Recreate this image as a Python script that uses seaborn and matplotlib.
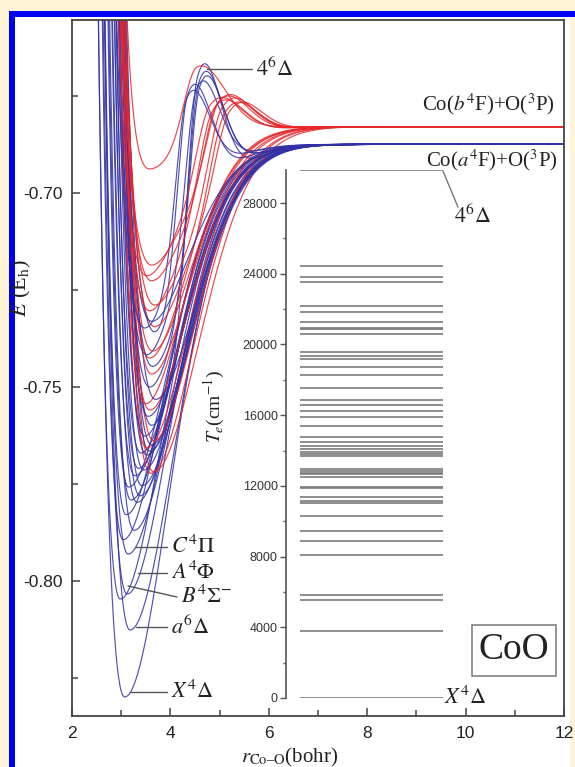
import numpy as np
import pandas as pd
import matplotlib
matplotlib.use("Agg")
import matplotlib.pyplot as plt
import seaborn as sns
from matplotlib.patches import Rectangle
from matplotlib.ticker import MultipleLocator, FormatStrFormatter

sns.set_theme(style="ticks")
plt.rcParams['font.family'] = ['Liberation Serif', 'DejaVu Serif']
plt.rcParams['mathtext.fontset'] = 'stix'
plt.rcParams['axes.unicode_minus'] = False

# ---------------- data ----------------
HARTREE_CM = 219474.63
E_GROUND = -0.8299                      # X4Delta minimum (Eh)
E_ASYM_A = -0.68745                     # Co(a4F)+O(3P)
E_ASYM_B = -0.68288                     # Co(b4F)+O(3P)

# term energies Te (cm-1) of the bound states (inset levels)
te_cm = [0, 3790, 5543, 5826, 8088, 8897, 9429, 10311, 11012, 11143,
         11386, 11878, 11952, 12517, 12653, 12743, 12839, 12935, 13688, 13801,
         13914, 14084, 14271, 14497, 14762, 15368, 15877, 16233, 16590, 16838,
         17534, 18269, 18704, 19174, 19362, 19570, 20588, 20870, 20947, 21250,
         21850, 22172, 23547, 23830, 24434, 29864]
# dissociation limit: 'a' = Co(a4F)+O(3P) (blue), 'b' = Co(b4F)+O(3P) (red)
limit = ['a', 'a', 'a', 'a', 'a', 'a', 'a', 'a', 'a', 'a',
         'a', 'a', 'a', 'a', 'b', 'b', 'a', 'a', 'a', 'a',
         'a', 'b', 'a', 'b', 'a', 'a', 'a', 'b', 'b', 'a',
         'a', 'b', 'a', 'b', 'a', 'b', 'a', 'a', 'b', 'a',
         'b', 'b', 'b', 'b', 'b', 'b']
# equilibrium distance (bohr)
re_bohr = [3.07, 3.18, 2.98, 3.12, 3.14, 3.04, 3.26, 3.10, 3.32, 3.20,
           3.38, 3.15, 3.42, 3.28, 3.60, 3.66, 3.46, 3.35, 3.52, 3.40,
           3.58, 3.52, 3.62, 3.66, 3.48, 3.62, 3.55, 3.58, 3.50, 3.70,
           3.58, 3.62, 3.64, 3.58, 3.52, 3.64, 3.70, 3.48, 3.68, 3.62,
           3.58, 3.68, 3.62, 3.52, 3.62, 3.58]
# steepness of inner wall / outer branch
a_inner = [1.40, 1.45, 1.70, 1.55, 1.60, 1.80, 1.55, 1.80, 1.55, 1.70,
           1.50, 1.85, 1.50, 1.65, 1.35, 1.30, 1.50, 1.60, 1.45, 1.55,
           1.40, 1.40, 1.40, 1.35, 1.50, 1.40, 1.45, 1.40, 1.45, 1.35,
           1.40, 1.40, 1.40, 1.40, 1.45, 1.35, 1.35, 1.45, 1.35, 1.40,
           1.40, 1.35, 1.40, 1.45, 1.40, 2.30]
a_outer = [0.80, 0.82, 0.85, 0.85, 0.85, 0.90, 0.85, 0.90, 0.85, 0.90,
           0.85, 0.90, 0.85, 0.90, 0.85, 0.80, 0.90, 0.95, 0.90, 0.95,
           0.90, 0.90, 0.95, 0.90, 1.00, 1.10, 1.00, 0.95, 1.00, 0.95,
           1.15, 1.00, 1.15, 1.05, 1.20, 1.00, 1.25, 1.20, 1.05, 1.05,
           1.10, 1.05, 1.10, 1.10, 1.10, 1.40]
OUTER_BEND = 0.25   # extra curvature of the outer branch towards the limit
# barrier maxima (position bohr, energy Eh); nan = none
hump_r = [np.nan] * 25 + [4.55, np.nan, np.nan, np.nan, np.nan,
                          4.58, np.nan, 4.60, 5.10, 4.52, np.nan, 4.35, 4.32, 5.20, np.nan,
                          4.85, 5.05, 4.95, 4.80, 5.00, 4.54]
hump_e = [np.nan] * 25 + [-0.6701, np.nan, np.nan, np.nan, np.nan,
                          -0.6714, np.nan, -0.6724, -0.6795, -0.6735, np.nan, -0.6747, -0.6760, -0.6790, np.nan,
                          -0.6790, -0.6780, -0.6770, -0.6775, -0.6762, -0.6675]

# ---------------- build the potential curves ----------------
r = np.linspace(2.0, 12.0, 1201)
rows = []
for i, te in enumerate(te_cm):
    asym = E_ASYM_A if limit[i] == 'a' else E_ASYM_B
    emin = E_GROUND + te / HARTREE_CM
    de = asym - emin

    def pec(x):
        d = x - re_bohr[i]
        expo = np.where(d < 0, a_inner[i] * d,
                        a_outer[i] * d + OUTER_BEND * d ** 2)
        return asym - de + de * (1 - np.exp(-expo)) ** 2

    v = pec(r)
    if not np.isnan(hump_r[i]):
        h = hump_e[i] - pec(np.array([hump_r[i]]))[0]
        wl, wr = (0.38, 0.75) if limit[i] == 'b' else (0.30, 0.60)
        w = np.where(r < hump_r[i], wl, wr)
        v = v + h * np.exp(-((r - hump_r[i]) / w) ** 2)
    v = np.minimum(v, -0.60)
    for x, e in zip(r, v):
        rows.append((f"s{i:02d}", x, e))
df = pd.DataFrame(rows, columns=["state", "r", "E"])

BLUE = "#3232a6"
RED = "#e6262b"
palette = {f"s{i:02d}": (BLUE if limit[i] == 'a' else RED) for i in range(len(te_cm))}

# ---------------- figure ----------------
W, H = 575, 767
fig = plt.figure(figsize=(W / 100, H / 100), dpi=100, facecolor="#fff3d6")
fig.patches.append(Rectangle((9 / W, 0), (570 - 9) / W, (H - 11) / H,
                             transform=fig.transFigure, facecolor="white",
                             edgecolor="none", zorder=-3))
fig.patches.append(Rectangle((9 / W, (H - 17) / H), (W - 9) / W, 6 / H,
                             transform=fig.transFigure, facecolor="#0000f0",
                             edgecolor="none", zorder=-2))
fig.patches.append(Rectangle((9 / W, 0), 6 / W, (H - 11) / H,
                             transform=fig.transFigure, facecolor="#0000f0",
                             edgecolor="none", zorder=-2))

ax = fig.add_axes([72 / W, (H - 716) / H, 492 / W, 696 / H])
ax.set_facecolor("white")
sns.lineplot(data=df, x="r", y="E", hue="state", palette=palette,
             hue_order=list(palette.keys()), legend=False, estimator=None,
             sort=False, linewidth=0.85, alpha=0.85, ax=ax)

ax.set_xlim(2, 12)
ax.set_ylim(-0.8348, -0.6554)
ax.xaxis.set_major_locator(MultipleLocator(2))
ax.xaxis.set_minor_locator(MultipleLocator(1))
ax.yaxis.set_major_locator(MultipleLocator(0.05))
ax.yaxis.set_minor_locator(MultipleLocator(0.025))
ax.yaxis.set_major_formatter(FormatStrFormatter("%.2f"))
ax.tick_params(which="both", direction="in", color="#444", width=1.1,
               labelsize=12.5, labelcolor="#222", labelfontfamily="Liberation Sans")
ax.tick_params(which="major", length=6, pad=7)
ax.tick_params(which="minor", length=4)
for s in ax.spines.values():
    s.set_color("#444")
    s.set_linewidth(1.3)
ax.set_xlabel("")
ax.set_ylabel("")

fig.text(290 / W, 1 - 757 / H, r"$r_{\mathrm{Co–O}}$(bohr)", fontsize=15,
         color="#222", ha="center", va="center")
fig.text(21 / W, 1 - 288 / H, r"$E$ (E$_{\mathrm{h}}$)", fontsize=16,
         color="#222", ha="center", va="center", rotation=90)

# annotations in the main panel (position in data units)
def px(x, y):
    return 2 + (x - 72) / 49.2, -0.70 + (193 - y) / 3880.0

ann_col = "#555555"
for (x0, y0, x1, y1, lab) in [
    (207, 69, 252, 69, r"$4^6\Delta$"),
    (135, 547, 167, 547, r"$C^4\Pi$"),
    (138, 573, 167, 573, r"$A^4\Phi$"),
    (128, 586, 177, 597, r"$B^4\Sigma^{-}$"),
    (136, 627, 167, 627, r"$a^6\Delta$"),
    (130, 692, 167, 692, r"$X^4\Delta$"),
]:
    p0, p1 = px(x0, y0), px(x1, y1)
    ax.plot([p0[0], p1[0]], [p0[1], p1[1]], color=ann_col, lw=1.0)
    ax.text(p1[0] + 0.08, p1[1], lab, fontsize=16, va="center", ha="left", color="#222")

xb, yb = px(488, 104)
ax.text(xb, yb, r"Co($b^4$F)+O($^3$P)", fontsize=15, ha="center", va="center", color="#222")
xa, ya = px(492, 160)
ax.text(xa, ya, r"Co($a^4$F)+O($^3$P)", fontsize=15, ha="center", va="center", color="#222")

# CoO box
ax.add_patch(Rectangle(((472 - 72) / 492, (716 - 676) / 696), 84 / 492, 51 / 696,
                       transform=ax.transAxes, facecolor="white",
                       edgecolor="#777", lw=1.1, zorder=5))
ax.text((514 - 72) / 492, (716 - 650) / 696, "CoO", transform=ax.transAxes,
        fontsize=27, ha="center", va="center", color="#222", zorder=6)

# ---------------- inset: term energies ----------------
ax_in = fig.add_axes([286 / W, (H - 698) / H, (447 - 286) / W, (698 - 170) / H])
ax_in.patch.set_alpha(0)
ax_in.hlines(te_cm, 0.87, 9.75, color="#7a7a7a", lw=1.2)
ax_in.set_xlim(0, 10)
ax_in.set_ylim(0, 29870)
ax_in.set_xticks([])
for side in ["top", "right", "bottom"]:
    ax_in.spines[side].set_visible(False)
ax_in.spines["left"].set_color("#555")
ax_in.spines["left"].set_linewidth(1.2)
ax_in.yaxis.set_major_locator(MultipleLocator(4000))
ax_in.yaxis.set_minor_locator(MultipleLocator(2000))
ax_in.tick_params(which="both", direction="out", color="#555", width=1.0,
                  labelsize=9, labelcolor="#333", labelfontfamily="Liberation Sans")
ax_in.tick_params(which="major", length=4, pad=2)
ax_in.tick_params(which="minor", length=2.5)
ax_in.set_ylabel("")
fig.text(214 / W, 1 - 406 / H, r"$T_e$(cm$^{-1}$)", fontsize=14, color="#222",
         ha="center", va="center", rotation=90)

def ipx(x, y):
    return (x - 286) / 16.1, (698 - y) / 17.68 * 1000

q0, q1 = ipx(443, 171), ipx(458, 207)
ax_in.plot([q0[0], q1[0]], [q0[1], q1[1]], color="#777", lw=1.0, clip_on=False)
ql = ipx(473, 216)
ax_in.text(ql[0], ql[1], r"$4^6\Delta$", fontsize=16, ha="center", va="center", color="#222")
qx = ipx(444, 698)
ax_in.text(qx[0], 0, r"$X^4\Delta$", fontsize=16, ha="left", va="center", color="#222")

fig.savefig("out.png", dpi=100, facecolor=fig.get_facecolor())
